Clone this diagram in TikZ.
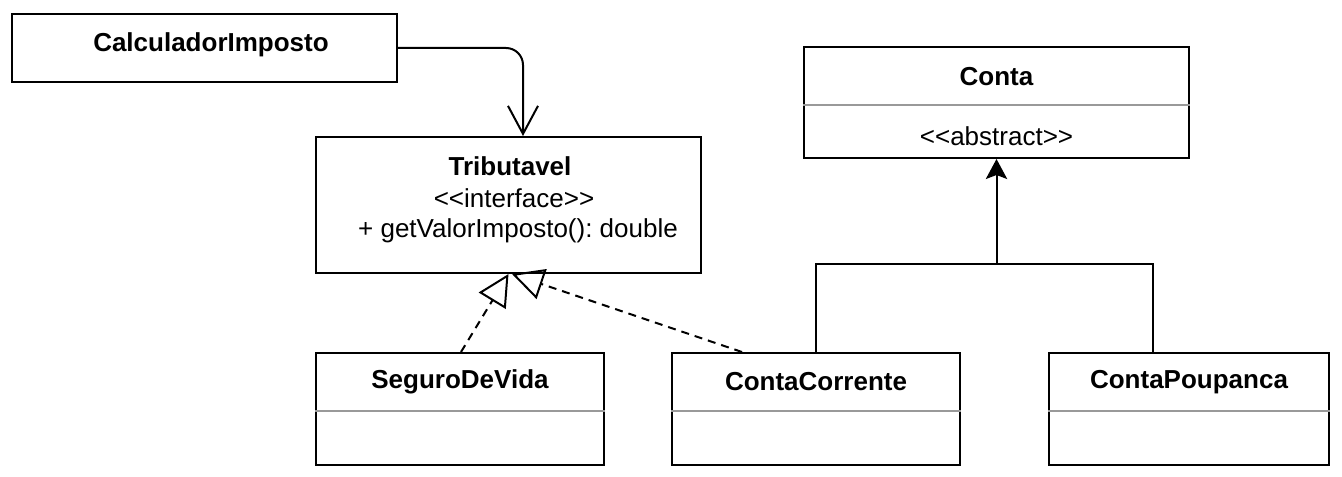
\documentclass[tikz,border=0pt]{standalone}
\usepackage{fontspec}
\setmainfont{Liberation Sans}
\usetikzlibrary{arrows.meta}
\frenchspacing
\begin{document}
\begin{tikzpicture}[x=0.75pt,y=-0.75pt,
  box/.style={draw=black, line width=1.5pt, rectangle, inner sep=0pt, fill=white},
  sep/.style={draw=black!40, line width=1.3pt},
  lbl/.style={inner sep=0pt, font=\fontsize{19.5}{23}\selectfont},
  blbl/.style={inner sep=0pt, font=\fontsize{19.5}{23}\selectfont\bfseries},
  assoc/.style={line width=1.5pt, -{Straight Barb[length=21pt,width=22.5pt,line width=1.5pt]}},
  real/.style={line width=1.5pt, dash pattern=on 6pt off 4.5pt, -{Triangle[open,length=23.5pt,width=23.5pt,line width=1.5pt]}},
  gen/.style={line width=1.5pt}
]
\useasboundingbox (0,0) rectangle (1342,477);
\fill[white] (0,0) rectangle (1342,477);

% CalculadorImposto
\node[box, minimum width=288.75pt, minimum height=51pt] (calc) at (204.5,48) {};
\node[blbl] (calcname) at (211,45) {CalculadorImposto};

% Tributavel
\node[box, minimum width=288.75pt, minimum height=102pt] (trib) at (508.5,205) {};
\node[blbl] (tribname) at (510,166) {Tributavel};
\node[lbl] (tribster) at (514,198) {<{}<interface>{}>};
\node[lbl] (tribop) at (518,231) {\frenchspacing + getValorImposto(): double};

% Conta
\node[box, minimum width=288.75pt, minimum height=83.25pt] (conta) at (996.5,102.5) {};
\node[blbl] (contaname) at (996.5,77) {Conta};
\node[lbl] (contaster) at (996.5,136) {<{}<abstract>{}>};
\draw[sep] ([yshift=-1.9pt]conta.west) -- ([yshift=-1.9pt]conta.east);

% SeguroDeVida
\node[box, minimum width=216pt, minimum height=84pt] (seg) at (460,409) {};
\node[blbl] (segname) at (460,382) {SeguroDeVida};
\draw[sep] ([yshift=-1.5pt]seg.west) -- ([yshift=-1.5pt]seg.east);

% ContaCorrente
\node[box, minimum width=216pt, minimum height=84pt] (cc) at (816,409) {};
\node[blbl] (ccname) at (816,382) {ContaCorrente};
\draw[sep] ([yshift=-1.5pt]cc.west) -- ([yshift=-1.5pt]cc.east);

% ContaPoupanca
\node[box, minimum width=210pt, minimum height=84pt] (cp) at (1189,409) {};
\node[blbl] (cpname) at (1189,382) {ContaPoupanca};
\draw[sep] ([yshift=-1.5pt]cp.west) -- ([yshift=-1.5pt]cp.east);

% association
\draw[assoc, rounded corners=12.75pt] (calc.east) -| ([xshift=10.875pt]trib.north);

% realizations
\draw[real] ([xshift=0.75pt]seg.north) -- (trib.south);
\draw[real] ([xshift=-55.5pt]cc.north) -- ([xshift=2.625pt]trib.south);

% generalization
\coordinate (junc) at (996.5,264);
\draw[gen] (cc.north) |- (junc) -| ([xshift=-27pt]cp.north);
\draw[gen, -{Stealth[length=15pt,width=16pt,inset=3pt]}] (junc) -- (conta.south);
\end{tikzpicture}
\end{document}
